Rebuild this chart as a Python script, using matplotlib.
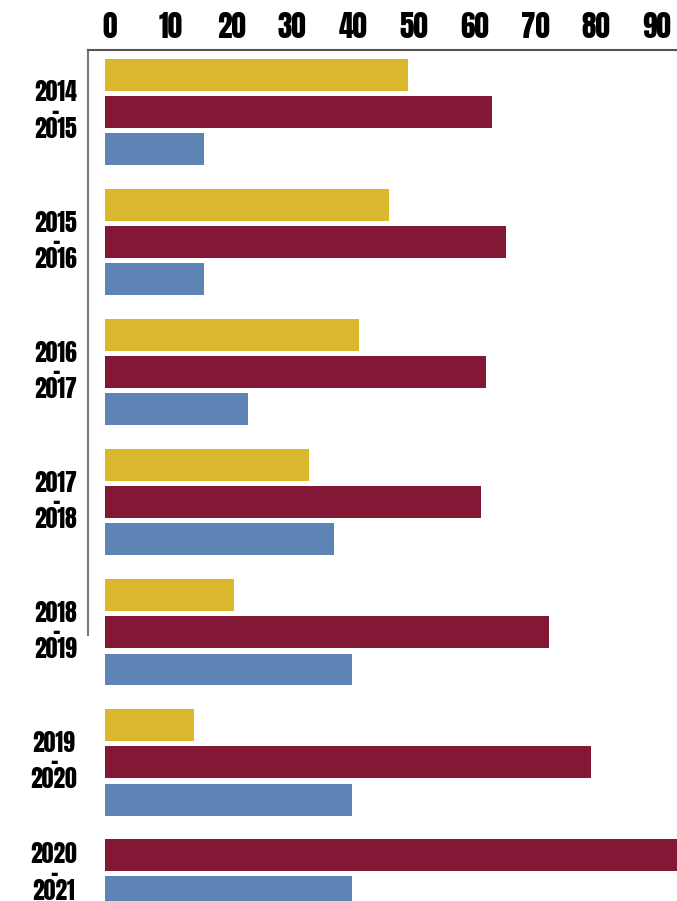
import numpy as np
import matplotlib
matplotlib.use("Agg")
import matplotlib.pyplot as plt
import matplotlib.transforms as mtransforms

seasons = ["2014\n-\n2015", "2015\n-\n2016", "2016\n-\n2017", "2017\n-\n2018",
           "2018\n-\n2019", "2019\n-\n2020", "2020\n-\n2021"]
yellow_vals = [49.9, 46.8, 41.8, 33.6, 21.3, 14.6, None]
red_vals = [63.7, 65.9, 62.7, 61.8, 73.0, 79.9, 96.0]
blue_vals = [16.3, 16.3, 23.5, 37.6, 40.7, 40.7, 40.7]
ticks = [0, 10, 20, 30, 40, 50, 60, 70, 80, 90]

series = [
    (yellow_vals, "#dab72c"),
    (red_vals, "#831836"),
    (blue_vals, "#5e83b5"),
]

font = ["Anton", "Liberation Sans Narrow", "DejaVu Sans"]

fig = plt.figure(figsize=(6.77, 9.01), dpi=100)
ax = fig.add_axes([88 / 677, 0.0, 1 - 88 / 677, 1 - 50 / 901])

# lay bars out slot by slot, skipping missing values
group_gap = 0.5
slot = 0.0
centers = []
for i, name in enumerate(seasons):
    used = []
    for vals, color in series:
        v = vals[i]
        if v is None:
            continue
        ax.barh(slot, v, height=0.86, color=color, left=0)
        used.append(slot)
        slot += 1
    centers.append(np.mean(used))
    slot += group_gap

ax.set_xlim(-2.8, 94.1)
ax.set_ylim(22.23, -0.673)

ax.xaxis.tick_top()
ax.set_xticks(ticks)
ax.set_xticklabels([str(t) for t in ticks], family=font, fontsize=21)
ax.tick_params(axis="x", length=0, pad=6)
offset = mtransforms.ScaledTranslation(5 / 100, 0, fig.dpi_scale_trans)
for lbl in ax.get_xticklabels():
    lbl.set_transform(lbl.get_transform() + offset)

ax.set_yticks(centers)
ax.set_yticklabels(seasons, family=font, fontsize=17, linespacing=0.73,
                   multialignment="center")
ax.tick_params(axis="y", length=0, pad=8)

for side in ["right", "bottom"]:
    ax.spines[side].set_visible(False)
ax.spines["top"].set_color("#555555")
ax.spines["top"].set_linewidth(1.5)
ax.spines["left"].set_color("#777777")
ax.spines["left"].set_linewidth(1.5)
ax.spines["left"].set_bounds(15.07, -0.673)

fig.savefig("out.png", dpi=100)
